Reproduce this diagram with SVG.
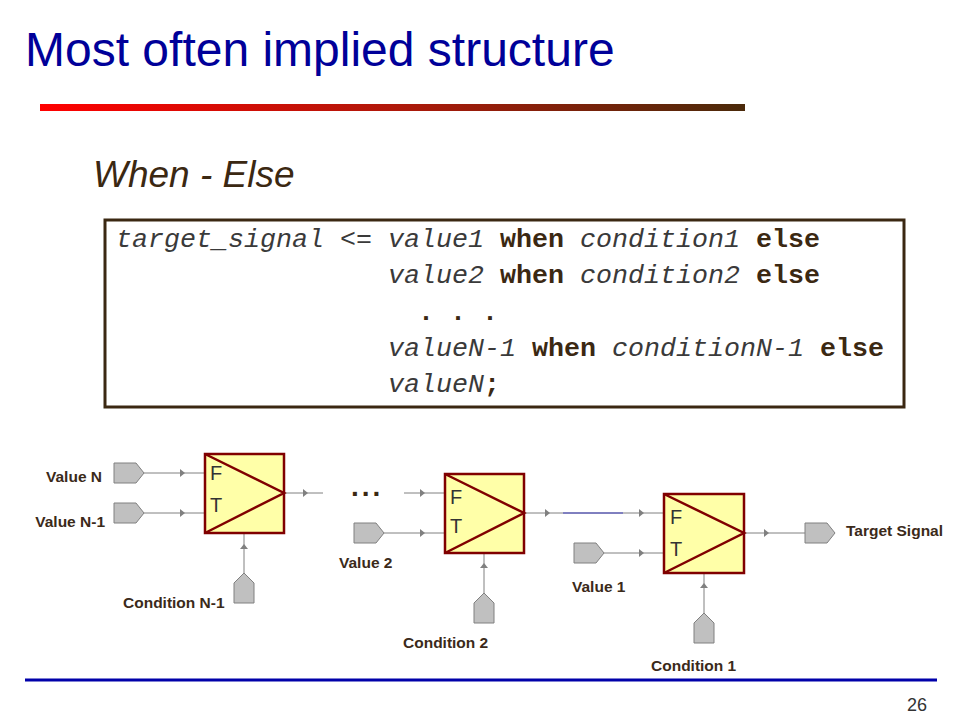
<svg xmlns="http://www.w3.org/2000/svg" width="960" height="720" viewBox="0 0 960 720">
<defs>
<linearGradient id="bar" x1="0" y1="0" x2="1" y2="0">
<stop offset="0" stop-color="#ff0000"/>
<stop offset="0.5" stop-color="#b0180a"/>
<stop offset="1" stop-color="#4a2a0a"/>
</linearGradient>
<marker id="ah" markerUnits="userSpaceOnUse" markerWidth="6" markerHeight="8" refX="5" refY="4" orient="auto" viewBox="0 0 6 8">
<path d="M0,0 L5,4 L0,8 z" fill="#808080"/>
</marker>
</defs>
<style>
.lbl{font-family:"Liberation Sans",Arial,sans-serif;font-weight:bold;font-size:15.5px;fill:#3b2a1a}
.code{font-family:"Liberation Mono","Courier New",monospace;font-size:26.67px}
.it{font-style:italic;fill:#3a3a3a}
.kw{font-weight:bold;fill:#3b2812}
.op{fill:#3a3a3a}
.mux{fill:#ffffa8;stroke:#800000;stroke-width:2.5}
.diag{stroke:#800000;stroke-width:2.5;fill:none}
.ft{font-family:"Liberation Sans",Arial,sans-serif;font-size:20px;fill:#333333}
.port{fill:#c0c0c0;stroke:#808080;stroke-width:1}
.wire{stroke:#808080;stroke-width:1;fill:none;marker-mid:url(#ah)}
</style>
<rect width="960" height="720" fill="#ffffff"/>
<text x="25" y="66" font-family="Liberation Sans,Arial,sans-serif" font-size="48" fill="#000099">Most often implied structure</text>
<rect x="40" y="104" width="705" height="7" fill="url(#bar)"/>
<text x="93" y="187" font-family="Liberation Sans,Arial,sans-serif" font-size="37" font-style="italic" fill="#3b2812">When - Else</text>

<g id="code">
<rect x="105" y="220" width="799" height="187" fill="#ffffff" stroke="#3b2812" stroke-width="3"/>
<text class="code" x="116" y="247"><tspan class="it">target_signal</tspan><tspan class="op"> &lt;= </tspan><tspan class="it">value1</tspan><tspan class="kw"> when </tspan><tspan class="it">condition1</tspan><tspan class="kw"> else</tspan></text>
<text class="code" x="388" y="283"><tspan class="it">value2</tspan><tspan class="kw"> when </tspan><tspan class="it">condition2</tspan><tspan class="kw"> else</tspan></text>
<text class="code kw" x="418" y="320">. . .</text>
<text class="code" x="388" y="356"><tspan class="it">valueN-1</tspan><tspan class="kw"> when </tspan><tspan class="it">conditionN-1</tspan><tspan class="kw"> else</tspan></text>
<text class="code" x="388" y="392"><tspan class="it">valueN</tspan><tspan class="kw">;</tspan></text>
</g>

<g id="connectors">
<path class="wire" d="M144,473 L185,473 L205,473"/>
<path class="wire" d="M144,513 L185,513 L205,513"/>
<path class="wire" d="M244,573 L244,544 L244,533"/>
<path class="wire" d="M284,493 L308,493 L323,493"/>
<path class="wire" d="M404,493 L425,493 L445,493"/>
<path class="wire" d="M384,533 L425,533 L445,533"/>
<path class="wire" d="M484,593 L484,563 L484,553"/>
<path class="wire" d="M524,513 L550,513 L563,513"/>
<path d="M563,513 L623,513" stroke="#000080" stroke-width="1" fill="none"/>
<path class="wire" d="M623,513 L644,513 L664,513"/>
<path class="wire" d="M604,553 L644,553 L664,553"/>
<path class="wire" d="M704,613 L704,583 L704,573"/>
<path class="wire" d="M744,533 L769,533 L805,533"/>
</g>

<g id="mux1">
<rect class="mux" x="205" y="454" width="79" height="79"/>
<path class="diag" d="M205,454 L284,493 L205,533"/>
<text class="ft" x="210" y="480">F</text>
<text class="ft" x="210" y="512">T</text>
</g>
<g id="mux2">
<rect class="mux" x="445" y="474" width="79" height="79"/>
<path class="diag" d="M445,474 L524,513 L445,553"/>
<text class="ft" x="450" y="504">F</text>
<text class="ft" x="450" y="533">T</text>
</g>
<g id="mux3">
<rect class="mux" x="664" y="494" width="80" height="79"/>
<path class="diag" d="M664,494 L744,533 L664,573"/>
<text class="ft" x="670" y="524">F</text>
<text class="ft" x="670" y="556">T</text>
</g>

<g id="valueN">
<polygon class="port" points="114,463 136,463 144,473 136,483 114,483"/>
<text class="lbl" x="102" y="482" text-anchor="end">Value N</text>
</g>
<g id="valueN1">
<polygon class="port" points="114,503 136,503 144,513 136,523 114,523"/>
<text class="lbl" x="105" y="527" text-anchor="end">Value N-1</text>
</g>
<g id="condN1">
<polygon class="port" points="234,603 234,583 244,573 254,583 254,603"/>
<text class="lbl" x="123" y="608">Condition N-1</text>
</g>
<g id="dots">
<text x="351" y="496" font-family="Liberation Sans,Arial,sans-serif" font-weight="bold" font-size="28" letter-spacing="3" fill="#3b2812">...</text>
</g>
<g id="value2">
<polygon class="port" points="354,523 376,523 384,533 376,543 354,543"/>
<text class="lbl" x="339" y="568">Value 2</text>
</g>
<g id="cond2">
<polygon class="port" points="474,623 474,603 484,593 494,603 494,623"/>
<text class="lbl" x="403" y="648">Condition 2</text>
</g>
<g id="value1">
<polygon class="port" points="574,543 596,543 604,553 596,563 574,563"/>
<text class="lbl" x="572" y="592">Value 1</text>
</g>
<g id="cond1">
<polygon class="port" points="694,643 694,623 704,613 714,623 714,643"/>
<text class="lbl" x="651" y="671">Condition 1</text>
</g>
<g id="target">
<polygon class="port" points="805,523 827,523 835,533 827,543 805,543"/>
<text class="lbl" x="846" y="536">Target Signal</text>
</g>

<line x1="25" y1="680" x2="937" y2="680" stroke="#0000aa" stroke-width="3"/>
<text x="927" y="711" text-anchor="end" font-family="Liberation Sans,Arial,sans-serif" font-size="18" fill="#333333">26</text>
</svg>
